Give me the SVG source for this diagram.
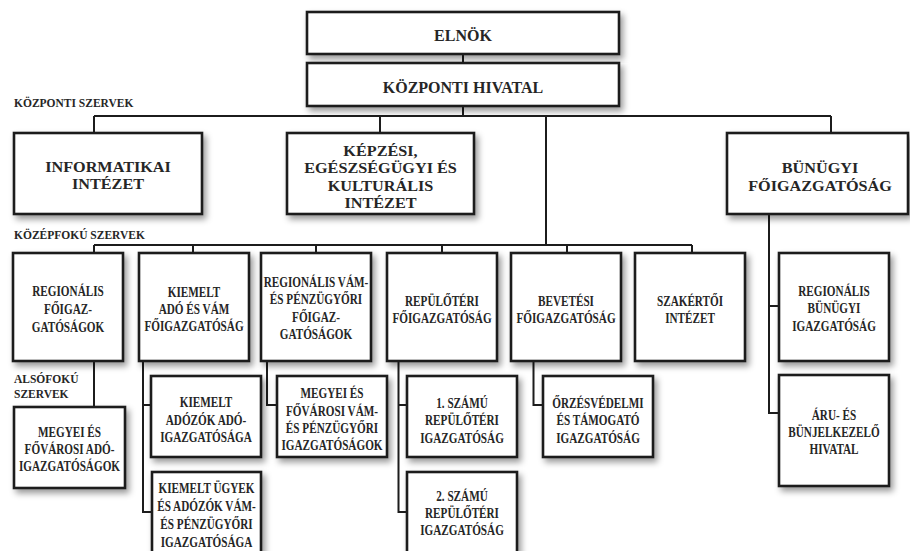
<svg xmlns="http://www.w3.org/2000/svg" width="910" height="551" viewBox="0 0 910 551">
<defs>
<filter id="sh" x="-10%" y="-10%" width="130%" height="130%">
<feDropShadow dx="3" dy="4" stdDeviation="3" flood-color="#000" flood-opacity="0.4"/>
</filter>
</defs>
<style>
.box{fill:#fff;stroke:#1c1c1c;stroke-width:2.6;filter:url(#sh)}
.con{fill:none;stroke:#1c1c1c;stroke-width:2}
text{font-family:"Liberation Serif","Times New Roman","DejaVu Serif",serif;font-weight:bold;fill:#262626;text-anchor:middle}
.big{font-size:16px}
.top{font-size:15px}
.sm{font-size:14px}
.lbl{font-size:11.5px;text-anchor:start}
</style>
<rect width="910" height="551" fill="#fff"/>
<g id="connectors" class="con">
<path d="M463 54V63M463 106V116M94 116H831M94 116V133M380 116V133M831 116V133M546 116V245"/>
<path d="M94 245H692M94 245V253M193 245V253M316 245V253M442 245V253M567 245V253M692 245V253"/>
<path d="M94 361V407"/>
<path d="M143 361V512H152M143 405H151"/>
<path d="M267 361V405H277"/>
<path d="M398.5 361V512H407M398.5 405H407"/>
<path d="M533.5 361V405H543"/>
<path d="M769 214V413H779M769 306H779"/>
</g>
<g id="labels">
<text class="lbl" x="14" y="107">KÖZPONTI SZERVEK</text>
<text class="lbl" x="14" y="239">KÖZÉPFOKÚ SZERVEK</text>
<text class="lbl" x="14" y="383">ALSÓFOKÚ</text>
<text class="lbl" x="14" y="398">SZERVEK</text>
</g>
<g id="elnok">
<rect class="box" x="307" y="12" width="312" height="42"/>
<text class="big" x="463" y="41">ELNÖK</text>
</g>
<g id="kozponti-hivatal">
<rect class="box" x="307" y="63" width="312" height="43"/>
<text class="big" x="463" y="93">KÖZPONTI HIVATAL</text>
</g>
<g id="informatikai">
<rect class="box" x="14" y="133" width="188" height="81"/>
<text class="top" transform="translate(108 0) scale(1.08 1)" x="0" y="172">INFORMATIKAI<tspan x="0" y="189.5">INTÉZET</tspan></text>
</g>
<g id="kepzesi">
<rect class="box" x="287" y="133" width="187" height="81"/>
<text class="top" transform="translate(380.5 0) scale(1.08 1)" x="0" y="156">KÉPZÉSI,<tspan x="0" y="173.5">EGÉSZSÉGÜGYI ÉS</tspan><tspan x="0" y="191">KULTURÁLIS</tspan><tspan x="0" y="208.5">INTÉZET</tspan></text>
</g>
<g id="bunugyi-foig">
<rect class="box" x="727" y="133" width="181" height="81"/>
<text class="top" transform="translate(820 0) scale(1.08 1)" x="0" y="173">BÜNÜGYI<tspan x="0" y="191">FŐIGAZGATÓSÁG</tspan></text>
</g>
<g id="regionalis-foig">
<rect class="box" x="13" y="253" width="110" height="108"/>
<text class="sm" transform="translate(68 0) scale(0.8 1)" x="0" y="296">REGIONÁLIS<tspan x="0" y="314">FŐIGAZ-</tspan><tspan x="0" y="332">GATÓSÁGOK</tspan></text>
</g>
<g id="kiemelt-ado-vam">
<rect class="box" x="139" y="253" width="110" height="108"/>
<text class="sm" transform="translate(194 0) scale(0.8 1)" x="0" y="297">KIEMELT<tspan x="0" y="314">ADÓ ÉS VÁM</tspan><tspan x="0" y="331">FŐIGAZGATÓSÁG</tspan></text>
</g>
<g id="regionalis-vam">
<rect class="box" x="261" y="253" width="110" height="108"/>
<text class="sm" transform="translate(316 0) scale(0.8 1)" x="0" y="287">REGIONÁLIS VÁM-<tspan x="0" y="304.5">ÉS PÉNZÜGYŐRI</tspan><tspan x="0" y="322">FŐIGAZ-</tspan><tspan x="0" y="339.5">GATÓSÁGOK</tspan></text>
</g>
<g id="repuloteri-foig">
<rect class="box" x="387" y="253" width="110" height="108"/>
<text class="sm" transform="translate(442 0) scale(0.8 1)" x="0" y="306">REPÜLŐTÉRI<tspan x="0" y="323">FŐIGAZGATÓSÁG</tspan></text>
</g>
<g id="bevetesi-foig">
<rect class="box" x="511" y="253" width="110" height="108"/>
<text class="sm" transform="translate(566 0) scale(0.8 1)" x="0" y="306">BEVETÉSI<tspan x="0" y="323">FŐIGAZGATÓSÁG</tspan></text>
</g>
<g id="szakertoi">
<rect class="box" x="635" y="253" width="110" height="108"/>
<text class="sm" transform="translate(690 0) scale(0.8 1)" x="0" y="306">SZAKÉRTŐI<tspan x="0" y="323">INTÉZET</tspan></text>
</g>
<g id="regionalis-bunugyi">
<rect class="box" x="779" y="253" width="110" height="108"/>
<text class="sm" transform="translate(834 0) scale(0.8 1)" x="0" y="296">REGIONÁLIS<tspan x="0" y="313.5">BÜNÜGYI</tspan><tspan x="0" y="331">IGAZGATÓSÁG</tspan></text>
</g>
<g id="megyei-ado">
<rect class="box" x="14" y="407" width="111" height="81"/>
<text class="sm" transform="translate(69.5 0) scale(0.8 1)" x="0" y="437">MEGYEI ÉS<tspan x="0" y="454">FŐVÁROSI ADÓ-</tspan><tspan x="0" y="471">IGAZGATÓSÁGOK</tspan></text>
</g>
<g id="kiemelt-adozok">
<rect class="box" x="151" y="376" width="110" height="81"/>
<text class="sm" transform="translate(206 0) scale(0.8 1)" x="0" y="407">KIEMELT<tspan x="0" y="425">ADÓZÓK ADÓ-</tspan><tspan x="0" y="442">IGAZGATÓSÁGA</tspan></text>
</g>
<g id="kiemelt-ugyek">
<rect class="box" x="152" y="472" width="109" height="95"/>
<text class="sm" transform="translate(206.5 0) scale(0.8 1)" x="0" y="493">KIEMELT ÜGYEK<tspan x="0" y="511">ÉS ADÓZÓK VÁM-</tspan><tspan x="0" y="529">ÉS PÉNZÜGYŐRI</tspan><tspan x="0" y="547">IGAZGATÓSÁGA</tspan></text>
</g>
<g id="megyei-vam">
<rect class="box" x="277" y="376" width="110" height="81"/>
<text class="sm" transform="translate(332 0) scale(0.8 1)" x="0" y="398">MEGYEI ÉS<tspan x="0" y="416">FŐVÁROSI VÁM-</tspan><tspan x="0" y="433">ÉS PÉNZÜGYŐRI</tspan><tspan x="0" y="450">IGAZGATÓSÁGOK</tspan></text>
</g>
<g id="repuloteri-1">
<rect class="box" x="407" y="376" width="110" height="81"/>
<text class="sm" transform="translate(462 0) scale(0.8 1)" x="0" y="408">1. SZÁMÚ<tspan x="0" y="425.5">REPÜLŐTÉRI</tspan><tspan x="0" y="443">IGAZGATÓSÁG</tspan></text>
</g>
<g id="repuloteri-2">
<rect class="box" x="407" y="472" width="110" height="95"/>
<text class="sm" transform="translate(462 0) scale(0.8 1)" x="0" y="501">2. SZÁMÚ<tspan x="0" y="518">REPÜLŐTÉRI</tspan><tspan x="0" y="535">IGAZGATÓSÁG</tspan></text>
</g>
<g id="orzesvedelmi">
<rect class="box" x="543" y="376" width="110" height="81"/>
<text class="sm" transform="translate(598 0) scale(0.8 1)" x="0" y="408">ŐRZÉSVÉDELMI<tspan x="0" y="425.5">ÉS TÁMOGATÓ</tspan><tspan x="0" y="443">IGAZGATÓSÁG</tspan></text>
</g>
<g id="aru-bunjel">
<rect class="box" x="779" y="375" width="110" height="111"/>
<text class="sm" transform="translate(834 0) scale(0.8 1)" x="0" y="420">ÁRU- ÉS<tspan x="0" y="437">BÜNJELKEZELŐ</tspan><tspan x="0" y="454">HIVATAL</tspan></text>
</g>
</svg>
